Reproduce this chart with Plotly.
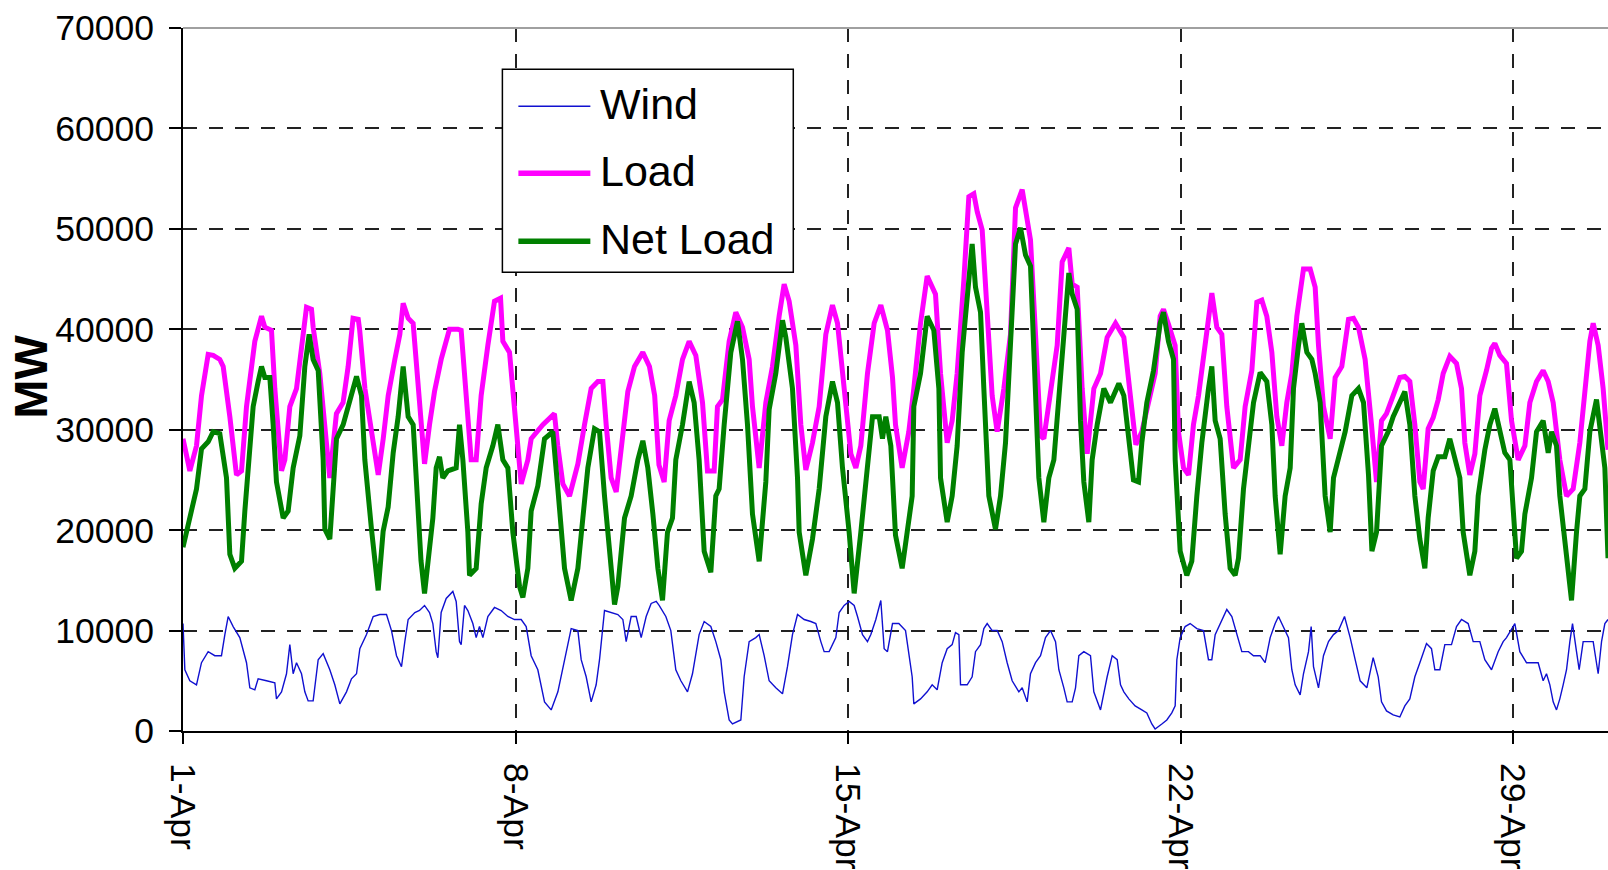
import pandas as pd
import plotly.graph_objects as go

# ---------------- data (day offset from 1-Apr 00:00, MW) ----------------
load_day = [0.0, 0.144, 0.284, 0.39, 0.53, 0.635, 0.775, 0.846, 0.986, 1.126, 1.232, 1.337, 1.512, 1.653, 1.723,
            1.863, 1.933, 2.074, 2.144, 2.249, 2.39, 2.495, 2.6, 2.705, 2.74, 2.88, 3.09, 3.23, 3.37, 3.477, 3.58,
            3.69, 3.72, 3.83, 3.97, 4.11, 4.215, 4.32, 4.46, 4.565, 4.635, 4.74, 4.845, 4.95, 5.085, 5.19, 5.295,
            5.435, 5.61, 5.79, 5.856, 5.962, 6.067, 6.172, 6.277, 6.418, 6.558, 6.685, 6.734, 6.874, 6.979, 7.12,
            7.26, 7.33, 7.576, 7.716, 7.82, 7.89, 7.997, 8.137, 8.313, 8.453, 8.593, 8.734, 8.839, 8.909, 9.014,
            9.12, 9.26, 9.365, 9.506, 9.68, 9.82, 9.93, 10.02, 10.13, 10.235, 10.375, 10.516, 10.656, 10.796,
            10.937, 11.042, 11.182, 11.252, 11.358, 11.498, 11.638, 11.779, 11.919, 11.989, 12.13, 12.27, 12.41,
            12.55, 12.656, 12.761, 12.902, 13.007, 13.112, 13.252, 13.393, 13.533, 13.673, 13.779, 13.919, 14.06,
            14.165, 14.27, 14.41, 14.551, 14.691, 14.831, 14.937, 15.0, 15.14, 15.28, 15.386, 15.527, 15.667,
            15.772, 15.842, 15.948, 16.088, 16.193, 16.298, 16.439, 16.544, 16.649, 16.72, 16.825, 16.93, 17.035,
            17.14, 17.281, 17.421, 17.527, 17.667, 17.737, 17.842, 17.948, 18.053, 18.123, 18.263, 18.404, 18.509,
            18.649, 18.72, 18.825, 18.93, 19.035, 19.176, 19.316, 19.456, 19.632, 19.807, 19.948, 20.06, 20.186,
            20.327, 20.467, 20.572, 20.642, 20.747, 20.887, 20.958, 21.063, 21.168, 21.273, 21.379, 21.554, 21.66,
            21.765, 21.87, 21.975, 22.116, 22.256, 22.361, 22.502, 22.607, 22.712, 22.817, 22.923, 23.028, 23.133,
            23.238, 23.344, 23.449, 23.589, 23.73, 23.835, 23.905, 24.01, 24.151, 24.256, 24.396, 24.537, 24.642,
            24.747, 24.887, 25.021, 25.127, 25.232, 25.337, 25.477, 25.618, 25.723, 25.828, 25.934, 26.039, 26.109,
            26.214, 26.32, 26.425, 26.53, 26.67, 26.811, 26.916, 26.986, 27.091, 27.197, 27.302, 27.442, 27.548,
            27.618, 27.723, 27.863, 27.969, 28.109, 28.25, 28.355, 28.495, 28.635, 28.741, 28.846, 28.986, 29.127,
            29.267, 29.407, 29.513, 29.618, 29.688, 29.793, 29.898, 30.0]
load_mw = [29100, 25900, 28400, 33400, 37500, 37400, 37000, 36300, 31300, 25500, 25900, 32300, 38800, 41300, 40200,
           39900, 34100, 25900, 27000, 32300, 34100, 38400, 42200, 42000, 40200, 35600, 25200, 31600, 32700, 36300,
           41100, 41000, 39900, 34100, 29800, 25500, 29100, 33400, 37000, 39500, 42600, 41100, 40600, 34500, 26600,
           30500, 33800, 37000, 40000, 40000, 39900, 33400, 27000, 27000, 33400, 38400, 42800, 43100, 38800, 37700,
           32300, 24600, 27000, 29100, 30500, 31200, 31600, 28400, 24600, 23400, 26600, 30500, 34100, 34800, 34800,
           30500, 25200, 23800, 29500, 33800, 36300, 37700, 36300, 33400, 26500, 24800, 30900, 33400, 37000, 38800,
           37400, 32700, 25900, 25900, 32300, 33000, 38800, 41700, 40200, 37000, 32300, 26200, 32700, 36300, 41300,
           44500, 42800, 38400, 30500, 26000, 28700, 32300, 39500, 42400, 40600, 34100, 27600, 26200, 28400, 35600,
           40600, 42400, 39900, 35200, 30500, 26200, 29800, 34100, 40600, 45300, 44200, 43500, 35600, 28700, 30900,
           35600, 44900, 53200, 53500, 51700, 49900, 41300, 33400, 29800, 34100, 39500, 52100, 53900, 52100, 48900,
           39500, 29400, 29100, 34100, 38400, 46700, 48100, 44500, 44200, 34100, 27600, 34100, 35600, 39200, 40600,
           39200, 33400, 28500, 29800, 32700, 35600, 41300, 42000, 40500, 38400, 29800, 26200, 25500, 30500, 33400,
           39500, 43600, 40200, 39500, 32300, 26200, 27000, 32300, 35900, 42700, 42900, 41300, 37700, 31300, 28400,
           32700, 35600, 41300, 46000, 46000, 44200, 38400, 32300, 29100, 35200, 36300, 41000, 41100, 40200, 37000,
           30500, 24800, 30900, 31600, 33400, 35200, 35300, 34800, 30500, 24800, 24100, 30100, 31200, 33000, 35600,
           37300, 36600, 34100, 28700, 25500, 27600, 33400, 35900, 38100, 38600, 37400, 36600, 30900, 27000, 28400,
           32700, 34800, 35900, 34800, 32700, 27000, 23400, 24100, 28700, 34100, 38800, 40600, 38400, 34100, 28000]

net_day = [0.0, 0.109, 0.284, 0.39, 0.53, 0.635, 0.775, 0.916, 0.986, 1.091, 1.232, 1.302, 1.372, 1.477, 1.582,
           1.653, 1.723, 1.828, 1.898, 1.968, 2.109, 2.214, 2.319, 2.46, 2.565, 2.656, 2.74, 2.846, 2.951, 2.986,
           3.091, 3.161, 3.232, 3.372, 3.512, 3.653, 3.758, 3.828, 3.968, 4.109, 4.214, 4.319, 4.425, 4.53, 4.635,
           4.74, 4.846, 4.951, 5.01, 5.085, 5.19, 5.26, 5.33, 5.4, 5.47, 5.576, 5.751, 5.821, 5.892, 5.997, 6.032,
           6.172, 6.277, 6.383, 6.523, 6.628, 6.734, 6.839, 6.944, 7.085, 7.155, 7.26, 7.33, 7.47, 7.611, 7.786,
           7.892, 8.032, 8.172, 8.313, 8.418, 8.523, 8.663, 8.769, 8.874, 8.944, 9.085, 9.155, 9.295, 9.435, 9.576,
           9.681, 9.786, 9.892, 9.997, 10.095, 10.2, 10.305, 10.375, 10.516, 10.656, 10.761, 10.866, 10.972,
           11.112, 11.217, 11.287, 11.393, 11.533, 11.673, 11.779, 11.884, 11.989, 12.13, 12.27, 12.34, 12.48,
           12.621, 12.691, 12.831, 12.937, 12.972, 13.112, 13.252, 13.393, 13.533, 13.673, 13.779, 13.884, 14.024,
           14.13, 14.27, 14.375, 14.516, 14.656, 14.726, 14.796, 14.902, 15.0, 15.14, 15.246, 15.351, 15.386,
           15.527, 15.667, 15.807, 15.913, 15.948, 16.088, 16.193, 16.298, 16.404, 16.544, 16.614, 16.684, 16.79,
           16.86, 16.965, 17.105, 17.211, 17.316, 17.421, 17.527, 17.632, 17.737, 17.842, 17.948, 18.018, 18.123,
           18.228, 18.334, 18.509, 18.649, 18.72, 18.825, 18.895, 18.965, 19.07, 19.14, 19.246, 19.386, 19.526,
           19.702, 19.807, 19.913, 20.01, 20.116, 20.186, 20.291, 20.432, 20.572, 20.642, 20.747, 20.853, 20.888,
           20.993, 21.133, 21.238, 21.344, 21.449, 21.589, 21.659, 21.73, 21.835, 21.94, 22.045, 22.151, 22.221,
           22.326, 22.431, 22.537, 22.677, 22.817, 22.923, 22.993, 23.098, 23.203, 23.309, 23.379, 23.484, 23.554,
           23.66, 23.765, 23.835, 23.94, 24.045, 24.151, 24.221, 24.326, 24.467, 24.607, 24.747, 24.853, 24.958,
           25.03, 25.127, 25.232, 25.372, 25.477, 25.618, 25.723, 25.828, 25.934, 26.039, 26.144, 26.214, 26.32,
           26.425, 26.565, 26.67, 26.776, 26.881, 26.951, 27.091, 27.197, 27.267, 27.407, 27.513, 27.618, 27.723,
           27.828, 27.934, 28.004, 28.074, 28.179, 28.25, 28.39, 28.495, 28.635, 28.741, 28.811, 28.916, 28.986,
           29.127, 29.232, 29.337, 29.407, 29.513, 29.618, 29.758, 29.828, 29.934, 30.0]
net_mw = [18300, 20700, 24100, 28100, 28800, 29800, 29600, 25200, 17600, 16200, 16900, 21900, 26200, 32300, 34800,
          36300, 35200, 35200, 30500, 24800, 21200, 21900, 26200, 29400, 36300, 39500, 37000, 35900, 27000, 20100,
          19100, 23400, 29100, 30500, 32700, 35300, 33400, 27000, 20100, 14000, 19900, 22300, 27700, 31300, 36300,
          31300, 30500, 22600, 17000, 13700, 18700, 21200, 26200, 27300, 25200, 25900, 26200, 30500, 27000, 19800,
          15500, 16200, 22600, 26200, 28400, 30500, 27000, 26200, 19800, 14400, 13300, 16200, 21900, 24400, 29100,
          29800, 24100, 16200, 13000, 16200, 21200, 26200, 30100, 29800, 23400, 19800, 12600, 14400, 21200, 23400,
          27000, 28900, 26200, 21600, 16200, 13000, 19800, 21200, 27000, 30500, 34800, 32700, 27000, 17900, 15800,
          23400, 24100, 30500, 37700, 40800, 37000, 30500, 21600, 16900, 24800, 32000, 35600, 40900, 39200, 34100,
          25200, 19800, 15500, 19100, 24100, 31300, 34800, 32700, 26200, 19800, 13700, 19800, 25200, 31300, 31300,
          29100, 31300, 28400, 19500, 16200, 19800, 23400, 32300, 35600, 41300, 39900, 34100, 25200, 20800, 23400,
          28400, 37700, 44900, 48500, 44200, 41700, 34100, 23400, 20100, 23400, 28700, 37700, 48500, 50100, 47400,
          46300, 32300, 25200, 20800, 25200, 27000, 37700, 45600, 43500, 42000, 30900, 24800, 20800, 27000, 30500,
          34100, 32700, 34600, 33400, 28700, 25000, 24800, 28700, 32700, 35900, 40600, 41700, 38800, 37000, 27000,
          17900, 15500, 16900, 23400, 28700, 34100, 36300, 30900, 29100, 21600, 16200, 15500, 17200, 24100, 28700,
          32700, 35700, 34800, 30500, 23400, 17600, 23400, 26200, 34100, 38400, 40600, 37700, 37000, 35600, 32700,
          23400, 19800, 25200, 27000, 29800, 33400, 34100, 32700, 25500, 17900, 19800, 28400, 29800, 31300, 32700,
          33800, 30500, 23400, 19100, 16200, 21200, 25900, 27300, 27300, 29100, 27000, 25200, 19800, 15500, 17900,
          23400, 28000, 30500, 32100, 29800, 27700, 27000, 21200, 17200, 17900, 21600, 25200, 29800, 30900, 27700,
          29800, 28400, 23400, 17900, 13000, 19800, 23400, 24100, 29800, 33000, 30500, 26200, 17200]

wind_day = [0.0, 0.039, 0.144, 0.284, 0.389, 0.53, 0.67, 0.81, 0.881, 0.951, 1.056, 1.196, 1.337, 1.407, 1.512,
            1.582, 1.758, 1.933, 1.968, 2.074, 2.179, 2.249, 2.319, 2.39, 2.495, 2.565, 2.635, 2.74, 2.846, 2.951,
            3.091, 3.196, 3.302, 3.442, 3.547, 3.653, 3.723, 3.863, 4.004, 4.144, 4.284, 4.389, 4.495, 4.6, 4.67,
            4.74, 4.881, 4.979, 5.085, 5.19, 5.26, 5.33, 5.365, 5.435, 5.541, 5.681, 5.751, 5.821, 5.856, 5.927,
            5.997, 6.102, 6.172, 6.242, 6.313, 6.418, 6.558, 6.698, 6.839, 6.979, 7.12, 7.225, 7.33, 7.47, 7.611,
            7.751, 7.892, 7.997, 8.102, 8.172, 8.313, 8.383, 8.488, 8.593, 8.698, 8.769, 8.874, 9.014, 9.155, 9.26,
            9.33, 9.435, 9.541, 9.646, 9.751, 9.856, 9.962, 10.024, 10.165, 10.27, 10.375, 10.481, 10.621, 10.726,
            10.866, 10.972, 11.112, 11.217, 11.323, 11.393, 11.498, 11.568, 11.744, 11.814, 11.919, 12.059, 12.13,
            12.235, 12.34, 12.48, 12.621, 12.726, 12.831, 12.937, 13.077, 13.217, 13.323, 13.428, 13.498, 13.603,
            13.744, 13.814, 13.919, 14.024, 14.13, 14.2, 14.305, 14.41, 14.481, 14.586, 14.691, 14.761, 14.831,
            14.937, 15.07, 15.211, 15.281, 15.351, 15.386, 15.527, 15.667, 15.772, 15.877, 15.983, 16.088, 16.193,
            16.263, 16.334, 16.369, 16.509, 16.614, 16.684, 16.79, 16.86, 16.93, 17.035, 17.141, 17.246, 17.351,
            17.456, 17.597, 17.667, 17.772, 17.842, 17.948, 18.053, 18.158, 18.263, 18.369, 18.439, 18.544, 18.614,
            18.72, 18.79, 18.86, 18.965, 19.105, 19.175, 19.316, 19.456, 19.562, 19.667, 19.737, 19.807, 19.912,
            20.045, 20.186, 20.291, 20.396, 20.466, 20.607, 20.712, 20.817, 20.888, 20.923, 20.993, 21.098, 21.203,
            21.344, 21.484, 21.589, 21.659, 21.73, 21.87, 21.975, 22.081, 22.186, 22.291, 22.431, 22.537, 22.677,
            22.782, 22.888, 22.993, 23.063, 23.168, 23.273, 23.344, 23.414, 23.519, 23.589, 23.695, 23.751, 23.8,
            23.905, 24.01, 24.116, 24.221, 24.326, 24.453, 24.572, 24.677, 24.782, 24.923, 25.056, 25.162, 25.232,
            25.337, 25.477, 25.618, 25.723, 25.828, 25.934, 26.039, 26.179, 26.284, 26.355, 26.46, 26.565, 26.705,
            26.811, 26.916, 27.056, 27.162, 27.302, 27.407, 27.548, 27.688, 27.793, 27.863, 27.969, 28.039, 28.144,
            28.284, 28.425, 28.53, 28.635, 28.705, 28.776, 28.846, 28.916, 28.986, 29.056, 29.127, 29.197, 29.253,
            29.337, 29.393, 29.477, 29.583, 29.688, 29.793, 29.864, 29.934, 30.0]
wind_mw = [10700, 6100, 5000, 4600, 6800, 7900, 7500, 7500, 9600, 11400, 10400, 9300, 6800, 4300, 4100, 5200, 5000,
           4800, 3200, 3900, 5700, 8600, 5700, 6800, 5700, 3900, 3000, 3000, 7100, 7700, 6100, 4600, 2700, 3900,
           5200, 5700, 8200, 9600, 11400, 11600, 11600, 10000, 7500, 6400, 8900, 11100, 11800, 12000, 12500, 11800,
           10700, 7900, 7300, 11800, 13200, 13900, 12900, 8900, 8600, 12500, 12000, 10700, 9300, 10400, 9300, 11400,
           12300, 12000, 11400, 11100, 11100, 10400, 7500, 6100, 2900, 2100, 3900, 6400, 8600, 10200, 10000, 7100,
           5400, 2900, 4600, 7100, 12000, 11800, 11600, 11100, 8900, 11400, 11400, 9300, 11400, 12700, 12900, 12500,
           11400, 10000, 6100, 5000, 3900, 5700, 9600, 10900, 10400, 8900, 7100, 3900, 1100, 700, 1100, 5400, 8900,
           9300, 9600, 7500, 5000, 4300, 3700, 6400, 9600, 11600, 11100, 10900, 10700, 8900, 7900, 7900, 9300, 11800,
           12500, 12900, 12500, 11400, 9600, 8900, 9600, 11100, 13000, 8200, 7900, 10700, 10700, 10000, 7900, 5400,
           2700, 3200, 3900, 4600, 4100, 6800, 8200, 8600, 9800, 9600, 4600, 4600, 5400, 7900, 8600, 10200, 10700,
           10000, 10000, 8900, 6800, 5000, 3900, 4300, 2900, 5700, 6800, 7500, 9300, 10000, 8900, 6100, 4300, 2900,
           2900, 4300, 7500, 7900, 7500, 3900, 2100, 5400, 7500, 7100, 4600, 3900, 3200, 2500, 2100, 1800, 700, 200,
           700, 1100, 1800, 2500, 7100, 9300, 10400, 10700, 10200, 10000, 7100, 7100, 9600, 11100, 12100, 11400,
           9600, 7900, 7900, 7500, 7500, 6800, 9300, 10700, 11400, 10400, 9300, 6100, 4600, 3600, 5700, 7900, 10400,
           6400, 4300, 7500, 8900, 9600, 10000, 11400, 9300, 7100, 5000, 4300, 7300, 5400, 2900, 2000, 1600, 1400,
           2500, 3200, 5400, 6800, 8700, 8200, 6100, 6100, 8600, 8600, 10400, 11100, 10700, 8900, 8900, 7100, 6100,
           7900, 8900, 9300, 10200, 10700, 7900, 6800, 6800, 6800, 5000, 5700, 4600, 2900, 2100, 3200, 4600, 6100,
           8900, 10700, 7900, 6100, 8900, 8900, 8900, 5700, 8900, 10700, 11100]

tick_days = [0, 7, 14, 21, 28]
tick_text = ["1-Apr", "8-Apr", "15-Apr", "22-Apr", "29-Apr"]
series_names = ["Wind", "Load", "Net Load"]
y_title = "MW"

# ---------------- helpers ----------------
START = pd.Timestamp("2009-04-01")


def to_time(days):
    return [START + pd.Timedelta(days=d) for d in days]


W, H = 1608, 870
# plot area in page pixels
PL, PR, PT, PB = 182.5, 1608, 27.7, 731


def px_x(px):
    return (px - PL) / (PR - PL)


def px_y(py):
    return (PB - py) / (PB - PT)


FONT = "Liberation Sans, Arial, sans-serif"
COL_WIND = "#1010d0"
COL_LOAD = "#ff00ff"
COL_NET = "#008000"

fig = go.Figure()
fig.add_trace(go.Scatter(x=to_time(wind_day), y=wind_mw, mode="lines", name=series_names[0],
                         line=dict(color=COL_WIND, width=1.4), showlegend=False))
fig.add_trace(go.Scatter(x=to_time(load_day), y=load_mw, mode="lines", name=series_names[1],
                         line=dict(color=COL_LOAD, width=5), showlegend=False))
fig.add_trace(go.Scatter(x=to_time(net_day), y=net_mw, mode="lines", name=series_names[2],
                         line=dict(color=COL_NET, width=5), showlegend=False))

grid_dash = "14px,12px"
fig.update_xaxes(
    range=[START, START + pd.Timedelta(days=30)],
    tickvals=to_time(tick_days), ticktext=tick_text, tickangle=90,
    tickfont=dict(family=FONT, size=35.5, color="black"),
    ticks="outside", ticklen=11, tickwidth=1.5, tickcolor="black",
    ticklabelstandoff=12,
    showline=True, linecolor="black", linewidth=2,
    showgrid=True, gridcolor="#222222", gridwidth=1.5, griddash=grid_dash,
    zeroline=False, automargin=False,
)
fig.update_yaxes(
    range=[0, 70000], dtick=10000, tick0=0, tickformat="d",
    tickfont=dict(family=FONT, size=35.5, color="black"),
    ticks="outside", ticklen=12, tickwidth=1.5, tickcolor="black",
    ticklabelstandoff=8,
    showline=True, linecolor="black", linewidth=2,
    showgrid=True, gridcolor="#222222", gridwidth=1.5, griddash=grid_dash,
    zeroline=False, automargin=False,
)

shapes = [
    # top border of the plot area
    dict(type="line", xref="paper", yref="paper", x0=0, x1=1, y0=1, y1=1,
         line=dict(color="#a0a0a0", width=2), layer="above"),
    # legend box
    dict(type="rect", xref="paper", yref="paper", x0=px_x(502), x1=px_x(793), y0=px_y(272), y1=px_y(69),
         line=dict(color="black", width=1.5), fillcolor="white", layer="above"),
]
annotations = [
    # y-axis title
    dict(xref="paper", yref="paper", x=px_x(30), y=px_y(377), text="<b>" + y_title + "</b>",
         textangle=-90, showarrow=False, xanchor="center", yanchor="middle",
         font=dict(family=FONT, size=47, color="black")),
]
legend_rows = [(series_names[0], COL_WIND, 1.4, 106, 104),
               (series_names[1], COL_LOAD, 5.5, 173, 171),
               (series_names[2], COL_NET, 5.5, 241, 239)]
for name, col, lw, ly, ty in legend_rows:
    shapes.append(dict(type="line", xref="paper", yref="paper", x0=px_x(518), x1=px_x(590),
                       y0=px_y(ly), y1=px_y(ly), line=dict(color=col, width=lw), layer="above"))
    annotations.append(dict(xref="paper", yref="paper", x=px_x(598), y=px_y(ty), text=name,
                            showarrow=False, xanchor="left", yanchor="middle",
                            font=dict(family=FONT, size=43, color="black")))

fig.update_layout(
    width=W, height=H,
    margin=dict(l=PL, r=W - PR, t=PT, b=H - PB, pad=0),
    paper_bgcolor="white", plot_bgcolor="white",
    shapes=shapes, annotations=annotations,
    showlegend=False,
)

# remove the default page margin and scrollbars so the figure fills the window exactly
page_fix = ("document.body.style.margin='0px';"
            "document.body.style.overflow='hidden';"
            "document.documentElement.style.overflow='hidden';")
fig.write_html("out.html", post_script=page_fix, config={"displayModeBar": False})
